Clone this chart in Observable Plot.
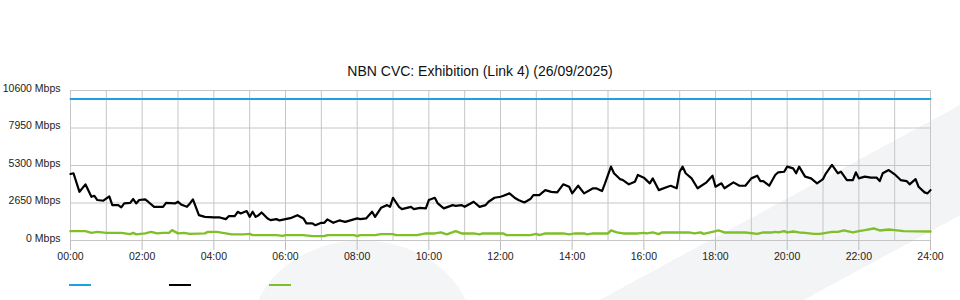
<!DOCTYPE html>
<html>
<head>
<meta charset="utf-8">
<script src="https://cdn.jsdelivr.net/npm/d3@7"></script>
<script src="https://cdn.jsdelivr.net/npm/@observablehq/plot@0.6"></script>
<style>
  html, body { margin: 0; padding: 0; }
  body {
    width: 960px; height: 300px; overflow: hidden;
    font-family: "Liberation Sans", Arial, sans-serif;
    background:
      radial-gradient(ellipse 112px 95px at 362px 335px, #f4f5f7 99%, rgba(244,245,247,0) 100%),
      linear-gradient(151.6deg, rgba(255,255,255,0) 549px, #f3f4f6 549px, #f3f4f6 646px, rgba(255,255,255,0) 646px),
      #ffffff;
  }
  #title {
    height: 80px; box-sizing: border-box; padding-top: 62px;
    font: 14px/18px "Liberation Sans", Arial, sans-serif; color: #111; text-align: center;
  }
  #chart svg { display: block; background: transparent; }
  #chart g[aria-label="x-axis tick"] { stroke: #bdbdbd; }
  #chart g[aria-label="x-axis"] .tick line { stroke: #bdbdbd; }
  #chart g[aria-label="x-axis"] .domain { display: none; }
  #legend { position: relative; height: 30px; }
  #legend span { position: absolute; top: 14px; width: 22px; height: 2px; }
</style>
</head>
<body>
<div id="title"></div>
<div id="chart"></div>
<div id="legend"></div>
<script>
const chartTitle = "NBN CVC: Exhibition (Link 4) (26/09/2025)";

const yTickValues = [0, 2650, 5300, 7950, 10600];
const xTickHours = [0, 2, 4, 6, 8, 10, 12, 14, 16, 18, 20, 22, 24];
const gridHours = d3.range(0, 25);

const seriesNames = ["Capacity", "Inbound", "Outbound"];
const seriesColors = ["#1ea1e4", "#000000", "#7fbf2a"];

const capacityTimes = ["00:00", "24:00"];
const capacityMbps = [10000, 10000];

const inboundTimes = ["00:00","00:05","00:15","00:25","00:35","00:40","00:45","00:55","01:05","01:10","01:20","01:25","01:30","01:40","01:45","01:50","01:55","02:05","02:10","02:20","02:35","02:40","02:55","03:00","03:05","03:15","03:20","03:25","03:35","03:45","04:00","04:10","04:20","04:25","04:35","04:40","04:45","04:55","05:00","05:05","05:10","05:15","05:20","05:30","05:35","05:45","05:50","06:00","06:10","06:20","06:30","06:35","06:45","06:50","07:00","07:05","07:10","07:20","07:30","07:40","07:50","08:00","08:05","08:15","08:25","08:30","08:40","08:50","08:55","09:00","09:10","09:15","09:30","09:35","09:45","09:55","10:00","10:10","10:15","10:25","10:40","10:45","10:55","11:00","11:10","11:15","11:25","11:35","11:40","11:50","12:00","12:05","12:15","12:25","12:30","12:40","12:50","12:55","13:05","13:15","13:25","13:35","13:45","13:55","14:00","14:10","14:20","14:35","14:40","14:50","14:55","15:05","15:10","15:20","15:25","15:35","15:45","15:50","16:00","16:10","16:15","16:25","16:40","16:45","16:55","17:00","17:05","17:10","17:20","17:30","17:45","17:55","18:00","18:10","18:15","18:30","18:40","18:50","19:00","19:10","19:15","19:20","19:30","19:40","19:45","19:55","20:00","20:10","20:15","20:20","20:30","20:40","20:50","21:00","21:05","21:15","21:25","21:30","21:40","21:50","21:55","22:00","22:10","22:20","22:30","22:35","22:40","22:50","23:00","23:10","23:20","23:25","23:35","23:40","23:50","23:55","24:00"];
const inboundMbps = [4700,4750,3440,3970,3090,3160,2860,2810,3120,2500,2500,2340,2620,2660,2930,2620,2860,2910,2740,2380,2380,2660,2620,2740,2550,2380,2620,2910,1790,1670,1630,1630,1510,1720,1720,2030,1910,2080,1670,2030,1670,1790,1980,1560,1440,1510,1420,1510,1600,1790,1560,1210,1210,1080,1250,1250,1490,1250,1420,1320,1440,1560,1510,1560,2030,1670,2310,2500,2380,3020,2380,2220,2380,2220,2310,2270,2860,3020,2620,2270,2500,2450,2500,2380,2620,2740,2380,2500,2740,3020,3090,3160,3330,2980,2860,2690,2930,3210,3210,3560,3440,3400,3970,3800,3330,3870,3330,3690,3690,3490,4040,5220,4750,4340,4270,3970,4150,4630,4440,4040,4390,3560,3800,3870,3690,4860,5220,4750,4390,3690,4110,4580,3800,4040,3690,4110,3870,3870,4390,4580,4200,4200,3870,4630,4820,4860,5220,5100,4750,5220,4510,4390,4040,4340,4750,5340,4750,4860,4270,4270,4820,4390,4510,4440,4440,4200,4750,4980,4680,4270,4200,3970,4340,3800,3400,3330,3560];

const outboundTimes = ["00:00","00:25","00:35","00:45","01:00","01:25","01:40","01:45","01:50","02:05","02:15","02:25","02:35","02:45","02:50","03:00","03:10","03:20","03:45","03:50","04:05","04:15","04:30","04:50","05:00","05:05","05:45","05:55","06:00","06:30","06:45","07:05","07:10","07:55","08:00","08:05","08:30","08:40","09:00","09:05","09:40","09:55","10:10","10:20","10:30","10:45","10:55","11:15","11:25","11:30","12:05","12:10","12:50","13:00","13:05","13:15","13:45","13:55","14:05","14:20","14:25","14:35","15:00","15:05","15:15","15:25","15:50","16:00","16:05","16:15","16:25","16:30","16:55","17:15","17:25","17:35","17:40","17:55","18:05","18:15","18:50","19:10","19:20","19:35","19:40","19:45","19:55","20:00","20:10","20:20","20:30","20:45","20:55","21:15","21:25","21:35","21:50","22:00","22:10","22:25","22:35","22:50","23:00","23:15","24:00"];
const outboundMbps = [660,660,540,610,540,540,450,540,430,500,610,500,540,540,730,500,540,470,500,610,610,540,430,430,470,380,380,330,380,380,310,310,380,380,310,380,380,450,450,380,380,500,500,570,430,660,500,500,430,500,500,380,380,470,380,500,500,430,500,500,430,500,500,710,570,500,500,540,500,570,450,570,570,570,500,570,470,610,710,570,570,470,570,570,610,570,660,570,640,570,540,470,470,610,610,710,570,660,730,850,710,780,730,660,640];

const toMinutes = s => { const [h, m] = s.split(":").map(Number); return h * 60 + m; };
const rows = (name, times, values) => times.map((t, i) => ({series: name, minute: toMinutes(t), mbps: values[i]}));
const capacity = rows(seriesNames[0], capacityTimes, capacityMbps);
const inbound = rows(seriesNames[1], inboundTimes, inboundMbps);
const outbound = rows(seriesNames[2], outboundTimes, outboundMbps);

document.getElementById("title").textContent = chartTitle;

const gridColor = "#c6c6c6";
const fmtTime = m => String(Math.floor(m / 60)).padStart(2, "0") + ":" + String(m % 60).padStart(2, "0");
const fmtMbps = d => d + " Mbps";
const hasAxisMarks = typeof Plot.axisY === "function";

const yAxisMarks = hasAxisMarks
  ? [Plot.axisY({ticks: yTickValues, tickFormat: fmtMbps, tickSize: 0, tickPadding: 10, dy: -2, label: null})]
  : [];

const chart = Plot.plot({
  width: 960,
  height: 190,
  marginLeft: 70,
  marginRight: 30,
  marginTop: 10,
  marginBottom: 30,
  style: {background: "transparent", fontFamily: "\"Liberation Sans\", Arial, sans-serif", fontSize: "10.5px", color: "#222", overflow: "visible"},
  x: {type: "linear", domain: [0, 1440], ticks: xTickHours.map(h => h * 60), tickFormat: fmtTime, tickSize: 10, tickPadding: 2, label: null},
  y: hasAxisMarks
    ? {domain: [0, 10600], label: null}
    : {domain: [0, 10600], ticks: yTickValues, tickFormat: fmtMbps, tickSize: 0, tickPadding: 10, label: null},
  marks: [
    Plot.ruleX(gridHours.map(h => h * 60), {stroke: gridColor, strokeWidth: 1}),
    Plot.ruleY(yTickValues, {stroke: gridColor, strokeWidth: 1}),
    ...yAxisMarks,
    Plot.line(capacity, {x: "minute", y: "mbps", stroke: seriesColors[0], strokeWidth: 2}),
    Plot.line(outbound, {x: "minute", y: "mbps", stroke: seriesColors[2], strokeWidth: 2.4, strokeLinejoin: "round"}),
    Plot.line(inbound, {x: "minute", y: "mbps", stroke: seriesColors[1], strokeWidth: 2.2, strokeLinejoin: "round"})
  ]
});
document.getElementById("chart").appendChild(chart);

const legend = document.getElementById("legend");
seriesNames.forEach((name, i) => {
  const sw = document.createElement("span");
  sw.title = name;
  sw.style.left = (69 + i * 100) + "px";
  sw.style.background = seriesColors[i];
  legend.appendChild(sw);
});
</script>
</body>
</html>
